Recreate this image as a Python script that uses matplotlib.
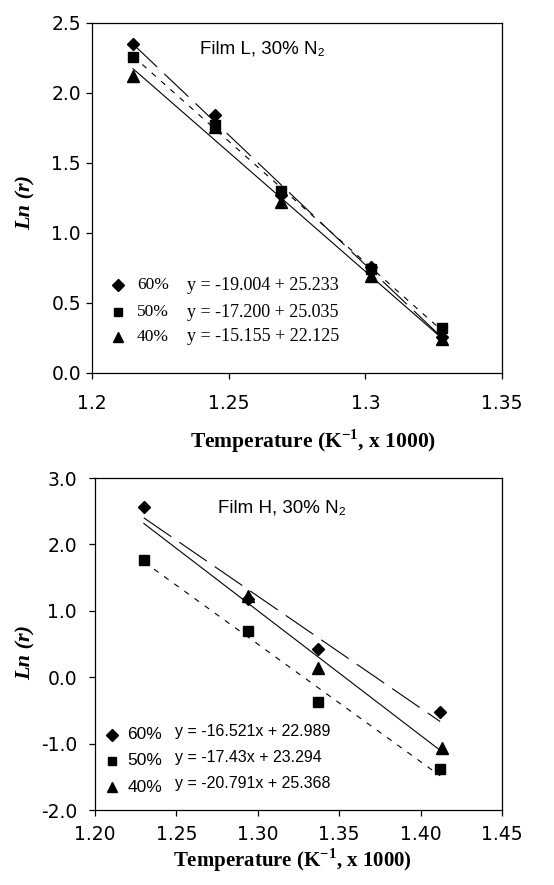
import numpy as np
import matplotlib
matplotlib.use("Agg")
from matplotlib import pyplot as plt
from matplotlib.ticker import FormatStrFormatter, FixedLocator

plt.rcParams['lines.scale_dashes'] = False
plt.rcParams['mathtext.fontset'] = 'custom'
plt.rcParams['mathtext.rm'] = 'Liberation Serif:bold'
plt.rcParams['mathtext.bf'] = 'Liberation Serif:bold'

# Film L のデータ
xL = [1.215, 1.245, 1.269, 1.302, 1.328]
yL_60 = [2.35, 1.84, 1.27, 0.76, 0.26]
yL_50 = [2.26, 1.77, 1.30, 0.74, 0.32]
yL_40 = [2.12, 1.76, 1.22, 0.69, 0.24]
eqL = ["y = -19.004 + 25.233", "y = -17.200 + 25.035", "y = -15.155 + 22.125"]

# Film H のデータ
xH = [1.230, 1.294, 1.337, 1.412]
yH_60 = [2.56, 1.18, 0.43, -0.52]
yH_50 = [1.77, 0.69, -0.37, -1.39]
xH_40 = [1.294, 1.337, 1.413]
yH_40 = [1.22, 0.14, -1.06]
eqH = ["y = -16.521x + 22.989", "y = -17.43x + 23.294", "y = -20.791x + 25.368"]

labels = ["60%", "50%", "40%"]
markers = ["D", "s", "^"]
msizes = [6.5, 7, 8]
dashes = [(24, 7), (4, 5), None]

W, H = 554, 885
fig = plt.figure(figsize=(W / 100, H / 100), dpi=100)


def axes_px(l, r, t, b):
    return fig.add_axes([l / W, 1 - b / H, (r - l) / W, (b - t) / H])


def trend(ax, x, y, x0, x1, ds):
    k, c = np.polyfit(x, y, 1)
    xs = np.array([x0, x1])
    ln, = ax.plot(xs, k * xs + c, color='black', lw=0.8, zorder=2)
    if ds is not None:
        ln.set_dashes(ds)


def style(ax, pad_x, pad_y):
    for s in ax.spines.values():
        s.set_linewidth(0.9)
    ax.tick_params(direction='out', length=4, width=0.9, labelsize=13.5,
                   top=False, right=False)
    ax.tick_params(axis='x', pad=pad_x)
    ax.tick_params(axis='y', pad=pad_y)
    for t in ax.get_xticklabels() + ax.get_yticklabels():
        t.set_fontfamily('DejaVu Sans')


def legend(ax, mx, tx, ex, rows, eqs, efont, esize, eoff):
    for i in range(3):
        ax.plot([mx], [rows[i]], marker=markers[i], ms=msizes[i] * 0.9,
                color='black', ls='none', transform=ax.transAxes, clip_on=False)
        ax.text(tx, rows[i], labels[i], transform=ax.transAxes, va='center',
                ha='left', fontsize=12.5, family=efont)
        ax.text(ex, rows[i] + eoff, eqs[i], transform=ax.transAxes, va='center',
                ha='left', fontsize=esize, family=efont)


# 上のグラフ (Film L)
ax1 = axes_px(92, 502, 23, 373)
ys = [yL_60, yL_50, yL_40]
for i in range(3):
    trend(ax1, xL, ys[i], xL[0], xL[-1], dashes[i])
for i in [2, 1, 0]:
    ax1.plot(xL, ys[i], marker=markers[i], ms=msizes[i], color='black',
             ls='none', zorder=3)
ax1.set_xlim(1.2, 1.35)
ax1.set_ylim(0, 2.5)
ax1.xaxis.set_major_locator(FixedLocator([1.2, 1.25, 1.3, 1.35]))
ax1.set_xticklabels(["1.2", "1.25", "1.3", "1.35"])
ax1.set_yticks(np.arange(0, 2.51, 0.5))
ax1.yaxis.set_major_formatter(FormatStrFormatter('%.1f'))
style(ax1, 11, 4)
ax1.text(0.263, 0.926, "Film L, 30% N₂", transform=ax1.transAxes,
         fontsize=13.5, family=['Liberation Sans', 'DejaVu Sans'], va='center')
legend(ax1, 0.063, 0.11, 0.232, [0.251, 0.174, 0.103], eqL,
       'Liberation Serif', 13, 0)

# 下のグラフ (Film H)
ax2 = axes_px(95, 502, 478, 810)
ysH = [(xH, yH_60), (xH, yH_50), (xH_40, yH_40)]
for i in range(3):
    trend(ax2, ysH[i][0], ysH[i][1], xH[0], xH[-1], dashes[i])
for i in [2, 1, 0]:
    ax2.plot(ysH[i][0], ysH[i][1], marker=markers[i], ms=msizes[i],
             color='black', ls='none', zorder=3)
ax2.set_xlim(1.2, 1.45)
ax2.set_ylim(-2, 3)
ax2.set_xticks(np.arange(1.2, 1.451, 0.05))
ax2.xaxis.set_major_formatter(FormatStrFormatter('%.2f'))
ax2.set_yticks(np.arange(-2, 3.01, 1.0))
ax2.yaxis.set_major_formatter(FormatStrFormatter('%.1f'))
style(ax2, 7, 9)
ax2.text(0.302, 0.91, "Film H, 30% N₂", transform=ax2.transAxes,
         fontsize=13.5, family=['Liberation Sans', 'DejaVu Sans'], va='center')
legend(ax2, 0.042, 0.079, 0.197, [0.226, 0.148, 0.069], eqH,
       'Liberation Sans', 11.5, 0.01)

# 軸ラベル
xlab = "Temperature (K$^{-1}$, x 1000)"
fig.text(313 / W, 1 - 441 / H, xlab, ha='center', va='center', fontsize=15.5,
         family='Liberation Serif', weight='bold')
fig.text(292 / W, 1 - 860 / H, xlab, ha='center', va='center', fontsize=15,
         family='Liberation Serif', weight='bold')
for yc in [203, 653]:
    fig.text(26 / W, 1 - yc / H, "Ln (r)", ha='center', va='center',
             rotation=90, fontsize=16, family='Liberation Serif',
             weight='bold', style='italic')

fig.savefig("out.png", dpi=100)
plt.close()
